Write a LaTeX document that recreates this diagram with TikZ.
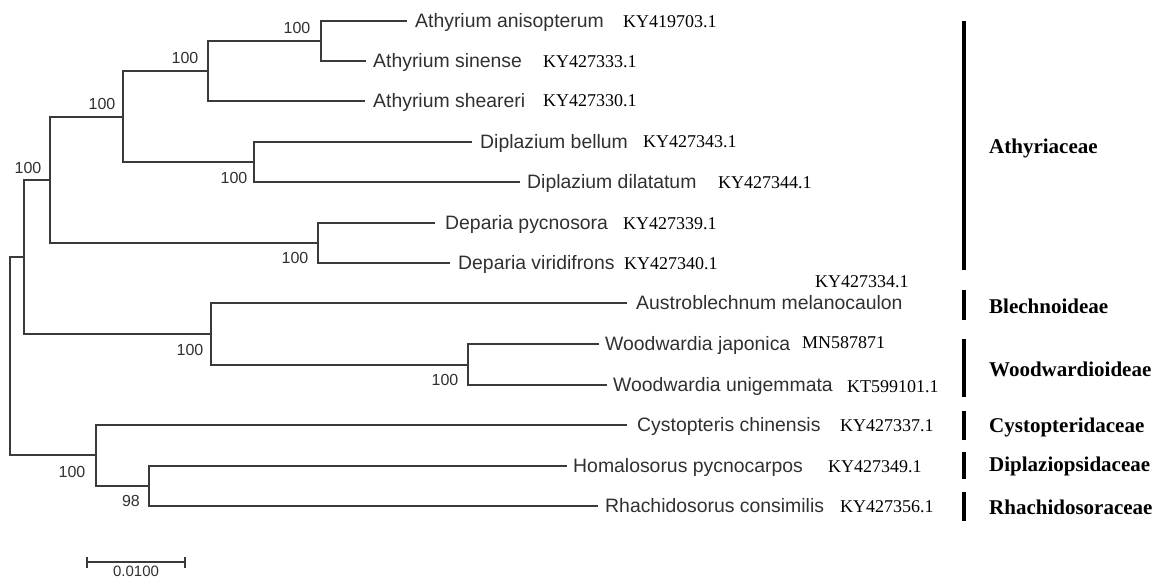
\documentclass[tikz,border=0pt]{standalone}
\usepackage{fontspec}
\setmainfont{Liberation Serif}
\setsansfont{Liberation Sans}
\definecolor{treegray}{HTML}{3A3A3A}
\definecolor{txtgray}{HTML}{303030}
\tikzset{
  branch/.style={draw=treegray, line width=1.3pt},
  species/.style={anchor=base west, inner sep=0pt, text=txtgray, font=\sffamily\fontsize{19.4}{20}\selectfont},
  acc/.style={anchor=base west, inner sep=0pt, text=black, font=\rmfamily\fontsize{18}{18}\selectfont},
  boot/.style={inner sep=0pt, text=txtgray, font=\sffamily\fontsize{16}{16}\selectfont},
  fam/.style={anchor=west, inner sep=0pt, text=black, font=\rmfamily\bfseries\fontsize{21}{21}\selectfont},
  famline/.style={draw=black, line width=3.5pt},
}
\begin{document}
\begin{tikzpicture}[x=1pt,y=-1pt]
\useasboundingbox (0,0) rectangle (1159,581);
% leaves
\coordinate (l1) at (407,21);
\coordinate (l2) at (366,61);
\coordinate (l3) at (365,101);
\coordinate (l4) at (472,142);
\coordinate (l5) at (520,182);
\coordinate (l6) at (435,223);
\coordinate (l7) at (450,263);
\coordinate (l8) at (627,303);
\coordinate (l9) at (599,344);
\coordinate (l10) at (607,385);
\coordinate (l11) at (627,425);
\coordinate (l12) at (567,466);
\coordinate (l13) at (598,506);
% internal nodes
\coordinate (n1) at (321,41);
\coordinate (n2) at (208,71);
\coordinate (n3) at (254,162);
\coordinate (n4) at (123,117);
\coordinate (n5) at (318,243);
\coordinate (n6) at (50,180);
\coordinate (n7) at (468,365);
\coordinate (n8) at (211,334);
\coordinate (n9) at (24,257);
\coordinate (n10) at (149,486);
\coordinate (n11) at (96,455);
\coordinate (root) at (10,356);
% branches
\draw[branch] (l1) -| (n1) |- (l2);
\draw[branch] (n1) -| (n2) |- (l3);
\draw[branch] (l4) -| (n3) |- (l5);
\draw[branch] (n2) -| (n4) |- (n3);
\draw[branch] (l6) -| (n5) |- (l7);
\draw[branch] (n4) -| (n6) |- (n5);
\draw[branch] (l9) -| (n7) |- (l10);
\draw[branch] (l8) -| (n8) |- (n7);
\draw[branch] (n6) -| (n9) |- (n8);
\draw[branch] (l12) -| (n10) |- (l13);
\draw[branch] (l11) -| (n11) |- (n10);
\draw[branch] (n9) -| (root) |- (n11);
% species names
\node[species] (t1) at ([shift={(8,6.5)}]l1) {Athyrium anisopterum};
\node[species] (t2) at ([shift={(7,6.5)}]l2) {Athyrium sinense};
\node[species] (t3) at ([shift={(8,6.5)}]l3) {Athyrium sheareri};
\node[species] (t4) at ([shift={(8,6.5)}]l4) {Diplazium bellum};
\node[species] (t5) at ([shift={(7,6.5)}]l5) {Diplazium dilatatum};
\node[species] (t6) at ([shift={(10,6.5)}]l6) {Deparia pycnosora};
\node[species] (t7) at ([shift={(8,6.5)}]l7) {Deparia viridifrons};
\node[species] (t8) at ([shift={(9,6.5)}]l8) {Austroblechnum melanocaulon};
\node[species] (t9) at ([shift={(6,6.5)}]l9) {Woodwardia japonica};
\node[species] (t10) at ([shift={(6,6.5)}]l10) {Woodwardia unigemmata};
\node[species] (t11) at ([shift={(10,6.5)}]l11) {Cystopteris chinensis};
\node[species] (t12) at ([shift={(6,6.5)}]l12) {Homalosorus pycnocarpos};
\node[species] (t13) at ([shift={(7,6.5)}]l13) {Rhachidosorus consimilis};
% accession numbers
\node[acc] (a1) at (623,27) {KY419703.1};
\node[acc] (a2) at (543,67) {KY427333.1};
\node[acc] (a3) at (543,106) {KY427330.1};
\node[acc] (a4) at (643,147) {KY427343.1};
\node[acc] (a5) at (718,188) {KY427344.1};
\node[acc] (a6) at (623,229) {KY427339.1};
\node[acc] (a7) at (624,269) {KY427340.1};
\node[acc] (a8) at (815,287) {KY427334.1};
\node[acc] (a9) at (802,348) {MN587871};
\node[acc] (a10) at (847,392) {KT599101.1};
\node[acc] (a11) at (840,431) {KY427337.1};
\node[acc] (a12) at (828,472) {KY427349.1};
\node[acc] (a13) at (840,512) {KY427356.1};
% bootstrap values
\node[boot] (b1) at (297,28) {100};
\node[boot] (b2) at (185,58) {100};
\node[boot] (b3) at (102,104) {100};
\node[boot] (b4) at (28,168) {100};
\node[boot] (b5) at (234,178) {100};
\node[boot] (b6) at (295,258) {100};
\node[boot] (b7) at (190,350) {100};
\node[boot] (b8) at (445,380) {100};
\node[boot] (b9) at (72,472) {100};
\node[boot] (b10) at (131,501) {98};
% family bars
\coordinate (f1a) at (964,21);  \coordinate (f1b) at (964,270);
\coordinate (f2a) at (964,290); \coordinate (f2b) at (964,320);
\coordinate (f3a) at (964,339); \coordinate (f3b) at (964,397);
\coordinate (f4a) at (964,411); \coordinate (f4b) at (964,440);
\coordinate (f5a) at (964,452); \coordinate (f5b) at (964,479);
\coordinate (f6a) at (964,492); \coordinate (f6b) at (964,521);
\draw[famline] (f1a) -- (f1b);
\draw[famline] (f2a) -- (f2b);
\draw[famline] (f3a) -- (f3b);
\draw[famline] (f4a) -- (f4b);
\draw[famline] (f5a) -- (f5b);
\draw[famline] (f6a) -- (f6b);
\node[fam] (F1) at (989,148) {Athyriaceae};
\node[fam] (F2) at (989,306) {Blechnoideae};
\node[fam] (F3) at (989,369) {Woodwardioideae};
\node[fam] (F4) at (989,427) {Cystopteridaceae};
\node[fam] (F5) at (989,466) {Diplaziopsidaceae};
\node[fam] (F6) at (989,507) {Rhachidosoraceae};
% scale bar
\coordinate (s1) at (87,562);
\coordinate (s2) at (185,562);
\draw[branch] (s1) -- (s2);
\draw[branch] ([yshift=-6]s1) -- ([yshift=5]s1);
\draw[branch] ([yshift=-6]s2) -- ([yshift=5]s2);
\node[boot, anchor=north, font=\sffamily\fontsize{15}{15}\selectfont] (sl) at (136,566) {0.0100};
\end{tikzpicture}
\end{document}
